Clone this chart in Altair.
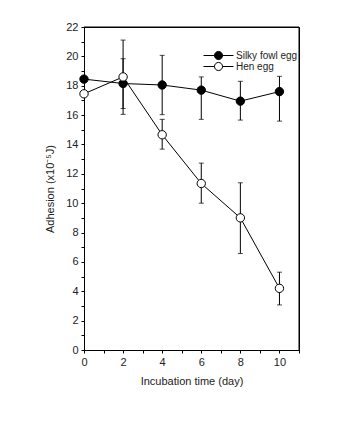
import altair as alt
import pandas as pd

days = [0, 2, 4, 6, 8, 10]
silky = [18.45, 18.15, 18.05, 17.7, 16.95, 17.6]
silky_lo = [18.45, 16.45, 16.03, 15.71, 15.66, 15.59]
silky_hi = [18.45, 19.84, 20.07, 18.6, 18.3, 18.64]
hen = [17.45, 18.6, 14.66, 11.34, 9.0, 4.2]
hen_lo = [17.45, 16.05, 13.68, 10.0, 6.57, 3.07]
hen_hi = [17.45, 21.11, 15.71, 12.73, 11.39, 5.3]
series = ["Silky fowl egg", "Hen egg"]
x_ticks = list(range(12))
y_ticks = list(range(23))
x_range = [0, 11]
y_range = [0, 22]

rows = []
for i, d in enumerate(days):
    rows.append(dict(day=d, s=series[0], v=silky[i], lo=silky_lo[i], hi=silky_hi[i], o=0))
for i, d in enumerate(days):
    rows.append(dict(day=d, s=series[1], v=hen[i], lo=hen_lo[i], hi=hen_hi[i], o=1))
df = pd.DataFrame(rows)

FONT = "Liberation Sans"
xs = alt.Scale(domain=x_range, nice=False)
ys = alt.Scale(domain=y_range, nice=False)

xax = alt.Axis(values=x_ticks, labelExpr="datum.value % 2 == 0 ? datum.label : ''",
               title="Incubation time (day)", grid=False, tickSize=3, domainColor="black",
               tickColor="black", labelColor="#222", titleColor="#222", labelFontSize=11,
               titleFontSize=11, titleFontWeight="normal", labelPadding=3, titlePadding=8,
               labelFont=FONT, titleFont=FONT, labelFlush=False, labelOverlap=False)
yax = alt.Axis(values=y_ticks, labelExpr="datum.value % 2 == 0 ? datum.label : ''",
               title="Adhesion (x10⁻⁵J)", grid=False, tickSize=3, domainColor="black",
               tickColor="black", labelColor="#222", titleColor="#222", labelFontSize=11,
               titleFontSize=11, titleFontWeight="normal", labelPadding=3, titlePadding=10,
               labelFont=FONT, titleFont=FONT, labelFlush=False, labelOverlap=False)

base = alt.Chart(df)
x = alt.X("day:Q", scale=xs, axis=xax)


def Y(field):
    return alt.Y(field, scale=ys, axis=yax)


frame_df = pd.DataFrame({"x0": [x_range[0], x_range[1]], "x1": [x_range[1], x_range[1]],
                         "y0": [y_range[1], y_range[0]], "y1": [y_range[1], y_range[1]]})
frame = alt.Chart(frame_df).mark_rule(color="black", strokeWidth=1).encode(
    x=alt.X("x0:Q", scale=xs, axis=xax), x2="x1:Q",
    y=alt.Y("y0:Q", scale=ys, axis=yax), y2="y1:Q")

bars = base.mark_rule(color="black", strokeWidth=1).encode(
    x=x, y=Y("lo:Q"), y2="hi:Q")
cap_lo = base.mark_tick(orient="horizontal", size=5, thickness=1, color="black").encode(
    x=x, y=Y("lo:Q"))
cap_hi = base.mark_tick(orient="horizontal", size=5, thickness=1, color="black").encode(
    x=x, y=Y("hi:Q"))
lines = base.mark_line(color="black", strokeWidth=1).encode(
    x=x, y=Y("v:Q"), detail="s:N")

legend_path = ("M-1,0H-0.27M0.27,0H1M0.27,0A0.27,0.27,0,1,1,-0.27,0"
               "A0.27,0.27,0,1,1,0.27,0Z")
points = base.mark_point(filled=False, size=70, stroke="black", strokeWidth=1, opacity=1).encode(
    x=x, y=Y("v:Q"),
    fill=alt.Fill("s:N", scale=alt.Scale(domain=series, range=["black", "white"]),
                  legend=alt.Legend(title=None, orient="none", legendX=119, legendY=23,
                                    symbolType=legend_path, symbolSize=900,
                                    symbolStrokeColor="black", symbolStrokeWidth=1,
                                    symbolOpacity=1, clipHeight=11, rowPadding=0,
                                    labelFont=FONT, labelFontSize=10, labelColor="#222",
                                    padding=0, labelOffset=2)),
    order="o:Q")

chart = alt.layer(bars, frame, cap_lo, cap_hi, lines, points).properties(
    width=215, height=323,
    padding={"left": 36, "top": 13, "right": 5, "bottom": 5},
).configure(background="white").configure_view(stroke="black", strokeWidth=1)

chart.save("out.html", embed_options={"renderer": "svg", "actions": False})
